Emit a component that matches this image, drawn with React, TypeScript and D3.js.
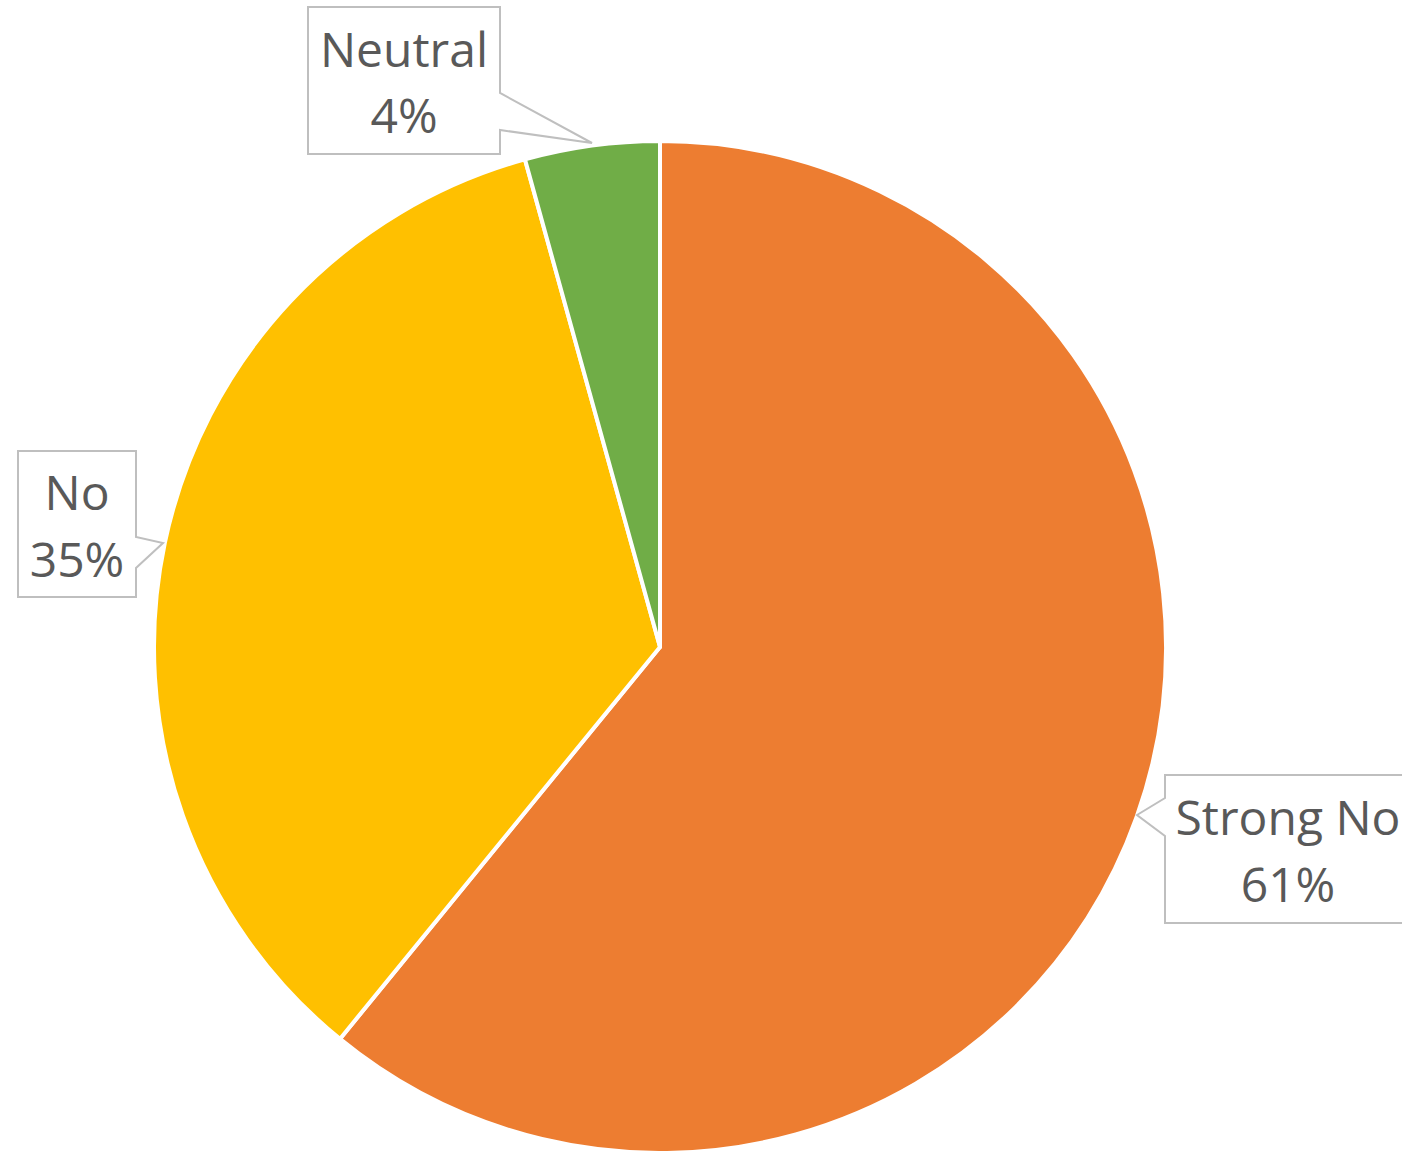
import React from "react";
import * as d3 from "d3";

const categories = ["Strong No", "No", "Neutral"];
const values = [60.9, 34.8, 4.3];
const colors = ["#ED7D31", "#FFC000", "#70AD47"];

// callout layout: box [x0,y0,x1,y1], pointer side, pointer points
const callouts = [
  { box: [1165, 775, 1420, 923], side: "left", p: [798, 1137, 815, 836], cx: 1288, y1: 835, y2: 902 },
  { box: [18, 451, 136, 597], side: "right", p: [537, 163, 543, 568], cx: 77, y1: 510, y2: 577 },
  { box: [308, 7, 500, 154], side: "right", p: [93, 592, 143, 130], cx: 404, y1: 67, y2: 133 },
];

function calloutPath(c: any) {
  const [x0, y0, x1, y1] = c.box;
  const [pa, tx, ty, pb] = c.p;
  if (c.side === "right") {
    return `M${x0},${y0}H${x1}V${pa}L${tx},${ty}L${x1},${pb}V${y1}H${x0}Z`;
  }
  return `M${x0},${y0}H${x1}V${y1}H${x0}V${pb}L${tx},${ty}L${x0},${pa}Z`;
}

export default function App() {
  const W = 1402, H = 1151;
  const cx = 660, cy = 647, r = 506;
  const pie = d3.pie<number>().sort(null).value((d) => d)(values);
  const arc = d3.arc<d3.PieArcDatum<number>>().innerRadius(0).outerRadius(r);
  const total = d3.sum(values);
  return (
    <svg width={W} height={H} style={{ position: "absolute", left: 0, top: 0 }}>
      <rect width={W} height={H} fill="#fff" />
      <g transform={`translate(${cx},${cy})`}>
        {pie.map((d, i) => (
          <path key={i} d={arc(d) || ""} fill={colors[i]} stroke="#fff" strokeWidth={4} strokeLinejoin="round" />
        ))}
      </g>
      {callouts.map((c, i) => (
        <g key={i}>
          <path d={calloutPath(c)} fill="#fff" stroke="#BFBFBF" strokeWidth={2} />
          <text x={c.cx} y={c.y1} textAnchor="middle" fontFamily="'Open Sans', sans-serif" fontSize={48} fill="#595959">
            {categories[i]}
          </text>
          <text x={c.cx} y={c.y2} textAnchor="middle" fontFamily="'Open Sans', sans-serif" fontSize={48} fill="#595959">
            {Math.round((values[i] / total) * 100)}%
          </text>
        </g>
      ))}
    </svg>
  );
}
